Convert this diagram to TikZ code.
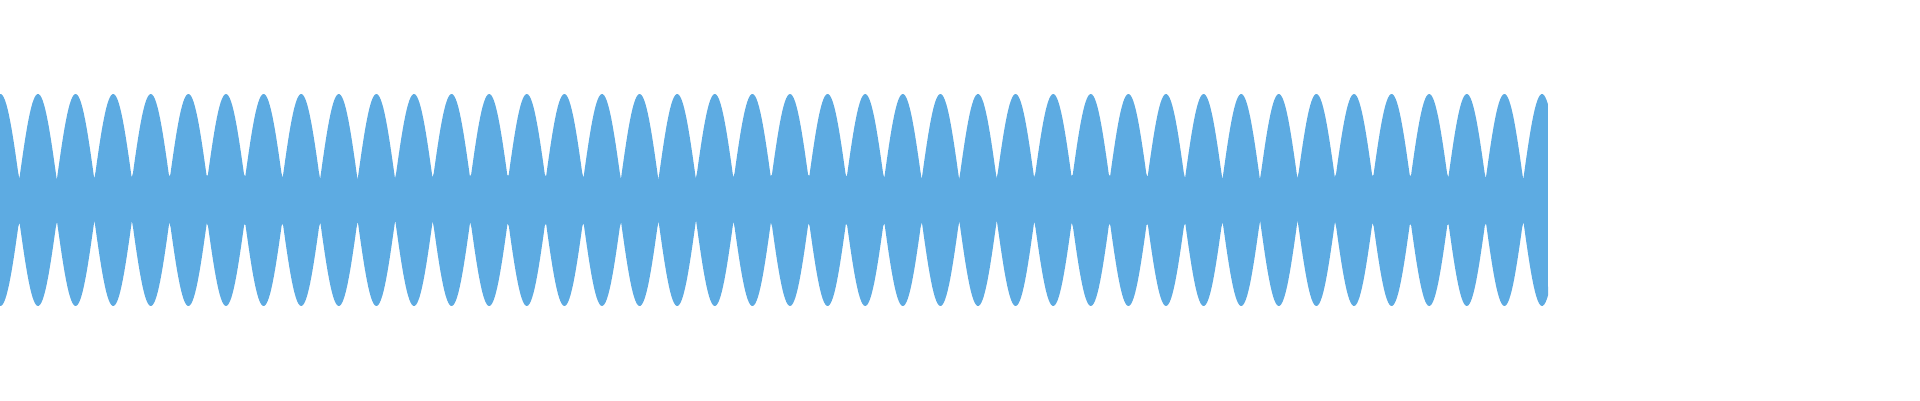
\documentclass[tikz,border=0pt]{standalone}
\definecolor{wave}{RGB}{93,171,226}
\begin{document}
\begin{tikzpicture}[x=37.6pt,y=1pt]
\useasboundingbox (0,0) rectangle (1920/37.6,400);
\fill[wave] plot[domain=0:41.17,samples=1200] (\x,{220+86*abs(cos(180*(\x-0.0106)))})
 -- plot[domain=41.17:0,samples=1200] (\x,{180-86*abs(cos(180*(\x-0.0106)))}) -- cycle;
\end{tikzpicture}
\end{document}
